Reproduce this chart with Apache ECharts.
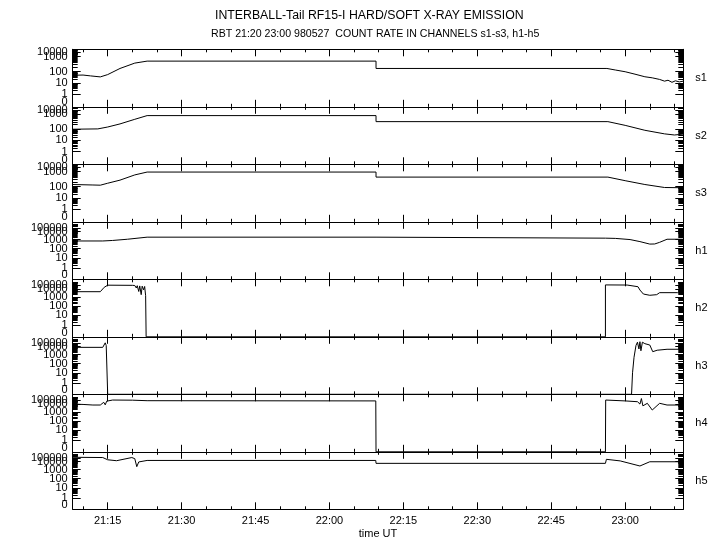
<!DOCTYPE html>
<html>
<head>
<meta charset="utf-8">
<script src="https://cdn.jsdelivr.net/npm/echarts@6/dist/echarts.min.js"></script>
<style>html,body{margin:0;padding:0;background:#fff}#c{width:720px;height:550px}</style>
</head>
<body>
<div id="c"></div>
<script>
// ---- data (time in minutes after 21:00 UT, counts) ----
const titleLine1 = 'INTERBALL-Tail RF15-I HARD/SOFT X-RAY EMISSION';
const titleLine2 = 'RBT 21:20 23:00 980527  COUNT RATE IN CHANNELS s1-s3, h1-h5';
const channelNames = ['s1','s2','s3','h1','h2','h3','h4','h5'];
const xTickValues = [15,30,45,60,75,90,105,120];
const xTickLabels = ['21:15','21:30','21:45','22:00','22:15','22:30','22:45','23:00'];
const xMinorValues = [10,20,25,35,40,50,55,65,70,80,85,95,100,110,115,125,130];
const xMin = 7.9, xMax = 131.8;

const sLabels = ['0','1','10','100','1000','10000'];
const hLabels = ['0','1','10','100','1000','10000','100000'];

const s1T = [7.9,10,11.5,13.5,15,17.5,20.5,23,69.45,69.45,116.3,118,120,122,124,125.5,127,128,128.7,129.5,130.2,131,131.8];
const s1C = [48,50,42,34,55,164,370,500,500,164,164,130,100,60,35,28,20,14,17,11,15,12,14];
const s2T = [7.9,13,15,17.5,20.5,23,69.45,69.45,116.5,120,124,128,130,131.8];
const s2C = [100,105,140,224,450,790,790,316,316,180,80,38,30,36];
const s3T = [7.9,12,13.5,15,17.5,20.5,23,69.45,69.45,116.5,120,124,128,131.8];
const s3C = [140,130,126,170,272,600,925,925,430,430,250,140,85,81];
const h1T = [7.9,8.2,8.5,14,16,19,23,69.45,69.45,116,118,121,123,125,126,127,128.5,131.8];
const h1C = [700,1200,700,700,800,1100,2000,2000,1500,1500,1400,1000,600,320,330,500,1100,1100];
const h2T = [7.9,13.5,14.3,15,20,20.5,20.8,21,21.3,21.5,21.8,22,22.3,22.5,22.7,22.8,22.8,116,116,120.4,122.6,122.8,123,123.7,125,126.4,127,130.6,131.8];
const h2C = [4700,4700,30000,110000,100000,90000,20000,80000,5000,70000,2000,60000,8000,50000,1500,1500,0,0,130000,120000,43000,100000,7600,2400,1670,2000,3550,3550,3000];
const h3T = [7.9,14,14.5,14.7,14.9,15.0,15.0,121.3,121.5,121.8,122.2,122.5,122.8,123.0,123.2,123.5,124,125,125.6,126.5,128.5,131.8];
const h3C = [8000,8000,100000,20000,60000,8000,0,0,10,500,20000,150000,5000,200000,3000,150000,60000,26000,2300,3500,4600,4600];
const h4T = [7.9,10,12,13.5,14.2,14.5,14.8,15,16,20,23,69.4,69.45,116,116.05,120,122.5,123,123.3,123.6,124.5,125.5,127,128.5,131.8];
const h4C = [10000,9000,7600,7600,30000,8000,60000,43000,120000,110000,80000,70000,0,0,120000,70000,43000,10000,300000,6000,16000,1800,16000,7600,7600];
const h5T = [7.9,14,15,16.8,19.9,20.5,20.9,21.3,23,69.4,69.45,116,116.2,119,123,125,131.8];
const h5C = [140000,120000,30000,17000,120000,60000,2300,9000,20000,20000,6000,6000,40000,15000,2800,9500,9500];

const channelTimes = [s1T,s2T,s3T,h1T,h2T,h3T,h4T,h5T];
const channelCounts = [s1C,s2C,s3C,h1C,h2C,h3C,h4C,h5C];

// ---- scale: panel fraction for each decade (as drawn in the original) ----
const sDecadePos = [0.221,0.418,0.61,0.874,0.947];
const sZeroLabelPos = 0.084;
const hDecadePos = [0.198,0.374,0.532,0.691,0.83,0.895];
const hZeroLabelPos = 0.07;

function makeScale(anchors){
  return function(c){
    if (c <= 0) return 0;
    if (c < 1) return c*anchors[0];
    const l = Math.log10(c);
    let i = Math.floor(l);
    if (i > anchors.length-2) i = anchors.length-2;
    return anchors[i] + (l-i)*(anchors[i+1]-anchors[i]);
  };
}

const FONT = 'Liberation Sans';
const L = 72.7, R = 720-683.3, TOP = 49.3, PH = 57.5;
const grids = [], xAxes = [], yAxes = [], series = [];

function labelFormatter(pos, labels){
  return (v)=>{let best=0; pos.forEach((p,j)=>{ if (Math.abs(p-v) < Math.abs(pos[best]-v)) best=j; }); return labels[best];};
}

channelNames.forEach((name, i) => {
  const isH = name[0] === 'h';
  const anchors = isH ? hDecadePos : sDecadePos;
  const labels = isH ? hLabels : sLabels;
  const zeroPos = isH ? hZeroLabelPos : sZeroLabelPos;
  const scale = makeScale(anchors);
  const labelPos = [zeroPos].concat(anchors);
  const posA = labelPos.filter((p,j)=>j%2===0), labA = labels.filter((p,j)=>j%2===0);
  const posB = labelPos.filter((p,j)=>j%2===1), labB = labels.filter((p,j)=>j%2===1);
  const minorPos = [];
  for (let d = 0; d < anchors.length; d++) {
    for (let k = 2; k <= 9; k++) {
      const p = scale(k*Math.pow(10,d));
      if (p < 0.995) minorPos.push(p);
    }
  }
  grids.push({left:L, right:R, top:TOP+i*PH, height:PH, containLabel:false});
  const last = i === channelNames.length-1;
  const xBase = {type:'value', gridIndex:i, min:xMin, max:xMax, splitLine:{show:false}};
  xAxes.push(Object.assign({}, xBase, {
    position:'bottom',
    axisLine:{show:true, onZero:false, lineStyle:{color:'#000', width:1}},
    axisTick:{show:true, inside:true, length:7, customValues:xTickValues, lineStyle:{color:'#000'}},
    axisLabel:{show:last, customValues:xTickValues, hideOverlap:false, margin:6, color:'#000', fontFamily:FONT, fontSize:11,
      formatter:(v)=>{const j = xTickValues.indexOf(Math.round(v)); return j>=0 ? xTickLabels[j] : '';}},
    name: last ? 'time UT' : '', nameLocation:'middle', nameGap:19,
    nameTextStyle:{color:'#000', fontFamily:FONT, fontSize:11}
  }));
  xAxes.push(Object.assign({}, xBase, {
    position:'bottom', axisLine:{show:false, onZero:false},
    axisTick:{show:true, inside:true, length:3, customValues:xMinorValues, lineStyle:{color:'#000'}},
    axisLabel:{show:false}
  }));
  xAxes.push(Object.assign({}, xBase, {
    position:'top', axisLine:{show:true, onZero:false, lineStyle:{color:'#000', width:1}},
    axisTick:{show:true, inside:true, length:7, customValues:xTickValues, lineStyle:{color:'#000'}},
    axisLabel:{show:false}
  }));
  xAxes.push(Object.assign({}, xBase, {
    position:'top', axisLine:{show:false, onZero:false},
    axisTick:{show:true, inside:true, length:3, customValues:xMinorValues, lineStyle:{color:'#000'}},
    axisLabel:{show:false}
  }));
  const yBase = {type:'value', gridIndex:i, min:0, max:1, splitLine:{show:false}};
  const yLabelStyle = {margin:5, color:'#000', fontFamily:FONT, fontSize:11, hideOverlap:false, showMinLabel:true, showMaxLabel:true};
  yAxes.push(Object.assign({}, yBase, {
    position:'left', axisLine:{show:true, onZero:false, lineStyle:{color:'#000', width:1}},
    axisTick:{show:true, inside:true, length:8, customValues:anchors, lineStyle:{color:'#000'}},
    axisLabel:Object.assign({show:true, customValues:posA, formatter:labelFormatter(posA, labA)}, yLabelStyle)
  }));
  yAxes.push(Object.assign({}, yBase, {
    position:'left', axisLine:{show:false, onZero:false},
    axisTick:{show:true, inside:true, length:5, customValues:minorPos, lineStyle:{color:'#000'}},
    axisLabel:Object.assign({show:true, customValues:posB, formatter:labelFormatter(posB, labB)}, yLabelStyle)
  }));
  yAxes.push(Object.assign({}, yBase, {
    position:'right', axisLine:{show:true, onZero:false, lineStyle:{color:'#000', width:1}},
    axisTick:{show:true, inside:true, length:8, customValues:anchors, lineStyle:{color:'#000'}},
    axisLabel:{show:false},
    name:name, nameLocation:'middle', nameRotate:0, nameGap:12,
    nameTextStyle:{color:'#000', fontFamily:FONT, fontSize:11, align:'left'}
  }));
  yAxes.push(Object.assign({}, yBase, {
    position:'right', axisLine:{show:false, onZero:false},
    axisTick:{show:true, inside:true, length:5, customValues:minorPos, lineStyle:{color:'#000'}},
    axisLabel:{show:false}
  }));
  const T = channelTimes[i], C = channelCounts[i];
  series.push({
    type:'line', xAxisIndex:i*4, yAxisIndex:i*4, symbol:'none', silent:true,
    lineStyle:{color:'#000', width:1}, clip:true,
    data:T.map((t,j)=>[t, scale(C[j])])
  });
});

const chart = echarts.init(document.getElementById('c'), null, {renderer:'canvas'});
chart.setOption({
  animation:false,
  backgroundColor:'#fff',
  title:[
    {text:titleLine1, left:215, top:9.5, padding:0, textStyle:{color:'#000', fontFamily:FONT, fontSize:12.3, fontWeight:'normal'}},
    {text:titleLine2, left:211, top:28.5, padding:0, textStyle:{color:'#000', fontFamily:FONT, fontSize:10.6, fontWeight:'normal'}}
  ],
  grid:grids, xAxis:xAxes, yAxis:yAxes, series:series
});
</script>
</body>
</html>
